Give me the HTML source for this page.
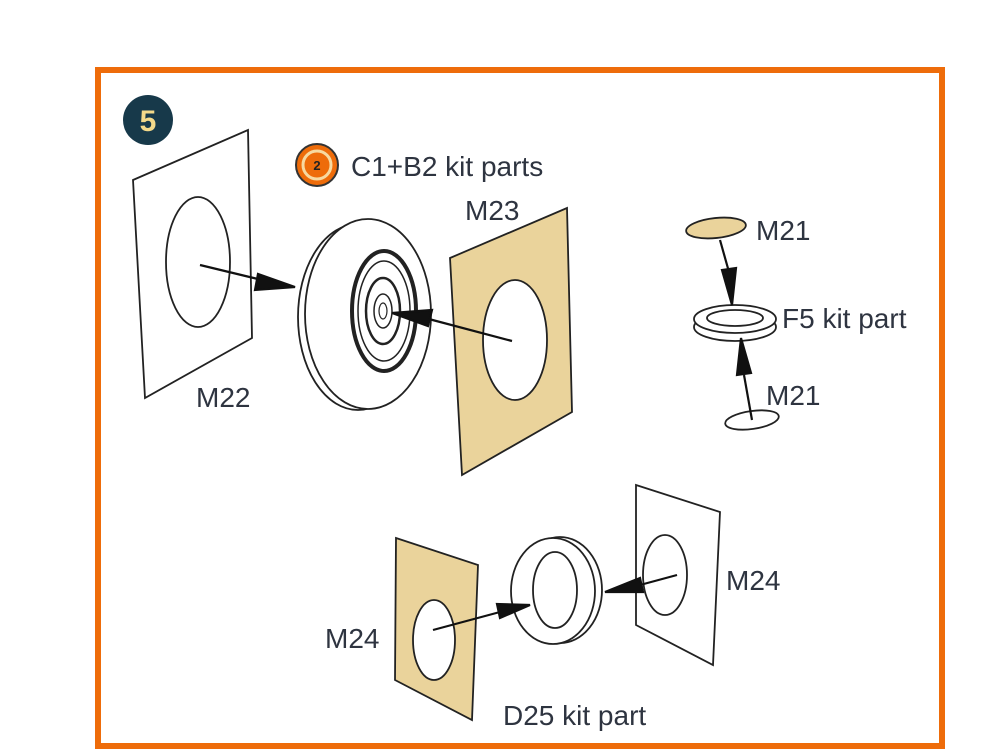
<!DOCTYPE html>
<html><head><meta charset="utf-8"><style>
html,body{margin:0;padding:0;background:#fff;}
svg{display:block;}
text{font-family:"Liberation Sans",sans-serif;fill:#2e3440;font-size:28px;}
</style></head><body>
<svg width="1000" height="750" viewBox="0 0 1000 750" xmlns="http://www.w3.org/2000/svg">
<rect x="98" y="70" width="844" height="676" fill="none" stroke="#ee6c0a" stroke-width="6"/>
<circle cx="148" cy="120" r="25" fill="#17394a"/>
<text x="148" y="131" text-anchor="middle" style="font-size:30px;font-weight:bold;fill:#f3d98a">5</text>

<g fill="none" stroke="#222" stroke-width="1.8">
<polygon points="133,180 248,130 252,338 145,398" fill="#fff"/>
<ellipse cx="198" cy="262" rx="32" ry="65"/>
<ellipse cx="358" cy="317" rx="60" ry="93" fill="#fff"/>
<ellipse cx="368" cy="314" rx="63" ry="95" fill="#fff"/>
<ellipse cx="384" cy="311" rx="32" ry="60" stroke-width="4"/>
<ellipse cx="384" cy="311" rx="26" ry="50" stroke-width="1.5"/>
<ellipse cx="383" cy="311" rx="17" ry="33" stroke-width="2.5"/>
<ellipse cx="383" cy="311" rx="9" ry="17" stroke-width="1.5"/>
<ellipse cx="383" cy="311" rx="4" ry="8" stroke-width="1.2"/>
<polygon points="450,258 567,208 572,412 462,475" fill="#ead39b"/>
<ellipse cx="515" cy="340" rx="32" ry="60" fill="#fff"/>
<ellipse cx="716" cy="228" rx="30" ry="10" fill="#ead39b" transform="rotate(-6 716 228)"/>
<ellipse cx="735" cy="327" rx="41" ry="14" fill="#fff"/>
<ellipse cx="735" cy="319" rx="41" ry="14" fill="#fff"/>
<ellipse cx="735" cy="318" rx="28" ry="8"/>
<ellipse cx="752" cy="420" rx="27" ry="9" transform="rotate(-8 752 420)"/>
<polygon points="396,538 478,565 472,720 395,680" fill="#ead39b"/>
<ellipse cx="434" cy="640" rx="21" ry="40" fill="#fff"/>
<ellipse cx="560" cy="590" rx="42" ry="53" fill="#fff"/>
<ellipse cx="553" cy="591" rx="42" ry="53" fill="#fff"/>
<ellipse cx="555" cy="590" rx="22" ry="38"/>
<polygon points="636,485 720,512 713,665 636,625" fill="#fff"/>
<ellipse cx="665" cy="575" rx="22" ry="40"/>
</g>

<g stroke="#111" stroke-width="2.2" fill="#111">
<line x1="200" y1="265" x2="262" y2="280"/><polygon points="295,287 258,274 255,290"/>
<line x1="512" y1="341" x2="425" y2="318"/><polygon points="392,313 432,310 428,326"/>
<line x1="720" y1="240" x2="729" y2="272"/><polygon points="732,305 722,270 736,268"/>
<line x1="752" y1="420" x2="744" y2="375"/><polygon points="741,338 737,375 751,373"/>
<line x1="433" y1="630" x2="500" y2="612"/><polygon points="530,605 497,604 500,618"/>
<line x1="677" y1="575" x2="640" y2="585"/><polygon points="605,592 640,578 643,592"/>
</g>

<circle cx="317" cy="165" r="21" fill="#ee6c0a" stroke="#333" stroke-width="2"/>
<circle cx="317" cy="165" r="14" fill="none" stroke="#f7d9a0" stroke-width="3"/>
<circle cx="317" cy="165" r="8" fill="#ee6c0a"/>
<text x="317" y="170" text-anchor="middle" style="font-size:13px;font-weight:bold;fill:#222">2</text>

<text x="351" y="176">C1+B2 kit parts</text>
<text x="465" y="220">M23</text>
<text x="196" y="407">M22</text>
<text x="756" y="240">M21</text>
<text x="782" y="328">F5 kit part</text>
<text x="766" y="405">M21</text>
<text x="726" y="590">M24</text>
<text x="325" y="648">M24</text>
<text x="503" y="725">D25 kit part</text>
</svg>
</body></html>
